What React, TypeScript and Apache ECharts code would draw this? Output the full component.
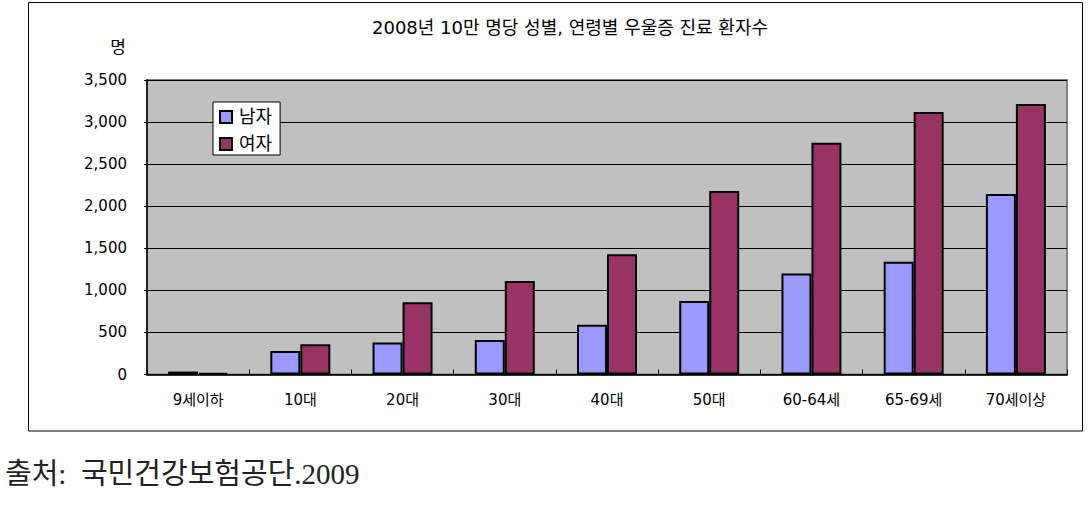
import React, { useEffect, useRef } from "react";
import * as echarts from "echarts";

const categories = ["9세이하", "10대", "20대", "30대", "40대", "50대", "60-64세", "65-69세", "70세이상"];
const maleValues = [35, 280, 380, 410, 590, 875, 1200, 1340, 2145];
const femaleValues = [20, 360, 860, 1110, 1430, 2180, 2755, 3120, 3215];
const seriesNames = ["남자", "여자"];
const titleText = "2008년 10만 명당 성별, 연령별 우울증 진료 환자수";
const unitText = "명";
const sourceText = "출처:  국민건강보험공단.2009";

const SANS = "'DejaVu Sans', 'Noto Sans CJK KR', sans-serif";

export default function App() {
  const ref = useRef<HTMLDivElement>(null);
  useEffect(() => {
    document.body.style.margin = "0";
    const chart = echarts.init(ref.current!, null, { renderer: "svg" });
    chart.setOption({
      animation: false,
      backgroundColor: "#ffffff",
      textStyle: { fontFamily: SANS },
      grid: {
        left: 147,
        right: 21,
        top: 80,
        bottom: 148.5,
        show: true,
        backgroundColor: "#C0C0C0",
        borderColor: "#808080",
        borderWidth: 2,
      },
      legend: {
        orient: "vertical",
        left: 213,
        top: 102,
        backgroundColor: "#ffffff",
        borderColor: "#000000",
        borderWidth: 1,
        padding: [6, 8, 2, 6],
        itemWidth: 12,
        itemHeight: 12,
        itemGap: 9,
        icon: "rect",
        textStyle: { fontSize: 18, color: "#000", fontFamily: SANS, padding: [0, 0, 0, 2] },
        data: seriesNames,
      },
      xAxis: {
        type: "category",
        data: categories,
        axisLine: { show: true, lineStyle: { color: "#000", width: 1.5 } },
        axisTick: { show: true, inside: true, length: 5, lineStyle: { color: "#000" } },
        axisLabel: { color: "#000", fontSize: 15, margin: 18, fontFamily: SANS },
      },
      yAxis: {
        type: "value",
        min: 0,
        max: 3500,
        interval: 500,
        axisLine: { show: true, lineStyle: { color: "#000", width: 1.5 } },
        axisTick: { show: true, length: 3, lineStyle: { color: "#000" } },
        splitLine: { show: true, lineStyle: { color: "#000", width: 1 } },
        axisLabel: {
          color: "#000",
          fontSize: 15,
          margin: 20,
          fontFamily: SANS,
          formatter: (v: number) => v.toLocaleString("en-US"),
        },
      },
      series: [
        {
          name: seriesNames[0],
          type: "bar",
          data: maleValues,
          barWidth: 30,
          barGap: "0%",
          itemStyle: { color: "#9999FF", borderColor: "#000", borderWidth: 2 },
        },
        {
          name: seriesNames[1],
          type: "bar",
          data: femaleValues,
          barWidth: 30,
          barGap: "0%",
          itemStyle: { color: "#993366", borderColor: "#000", borderWidth: 2 },
        },
      ],
      graphic: [
        {
          type: "rect",
          shape: { x: 28.5, y: 2.5, width: 1054, height: 428.5 },
          style: { fill: "none", stroke: "#000", lineWidth: 1 },
          silent: true,
          z: -1,
        },
        {
          type: "text",
          x: 570,
          y: 27,
          style: {
            text: titleText,
            fontSize: 18,
            fontFamily: SANS,
            fill: "#000",
            textAlign: "center",
            textVerticalAlign: "middle",
          },
        },
        {
          type: "text",
          x: 126,
          y: 47,
          style: {
            text: unitText,
            fontSize: 17,
            fontFamily: SANS,
            fill: "#000",
            textAlign: "right",
            textVerticalAlign: "middle",
          },
        },
        {
          type: "text",
          x: 5,
          y: 474,
          style: {
            text: sourceText,
            fontSize: 29,
            fontFamily: "'Liberation Serif', 'Noto Sans CJK KR', serif",
            fill: "#222",
            textAlign: "left",
            textVerticalAlign: "middle",
          },
        },
      ],
    });
    return () => chart.dispose();
  }, []);
  return <div ref={ref} style={{ width: 1088, height: 523 }} />;
}
